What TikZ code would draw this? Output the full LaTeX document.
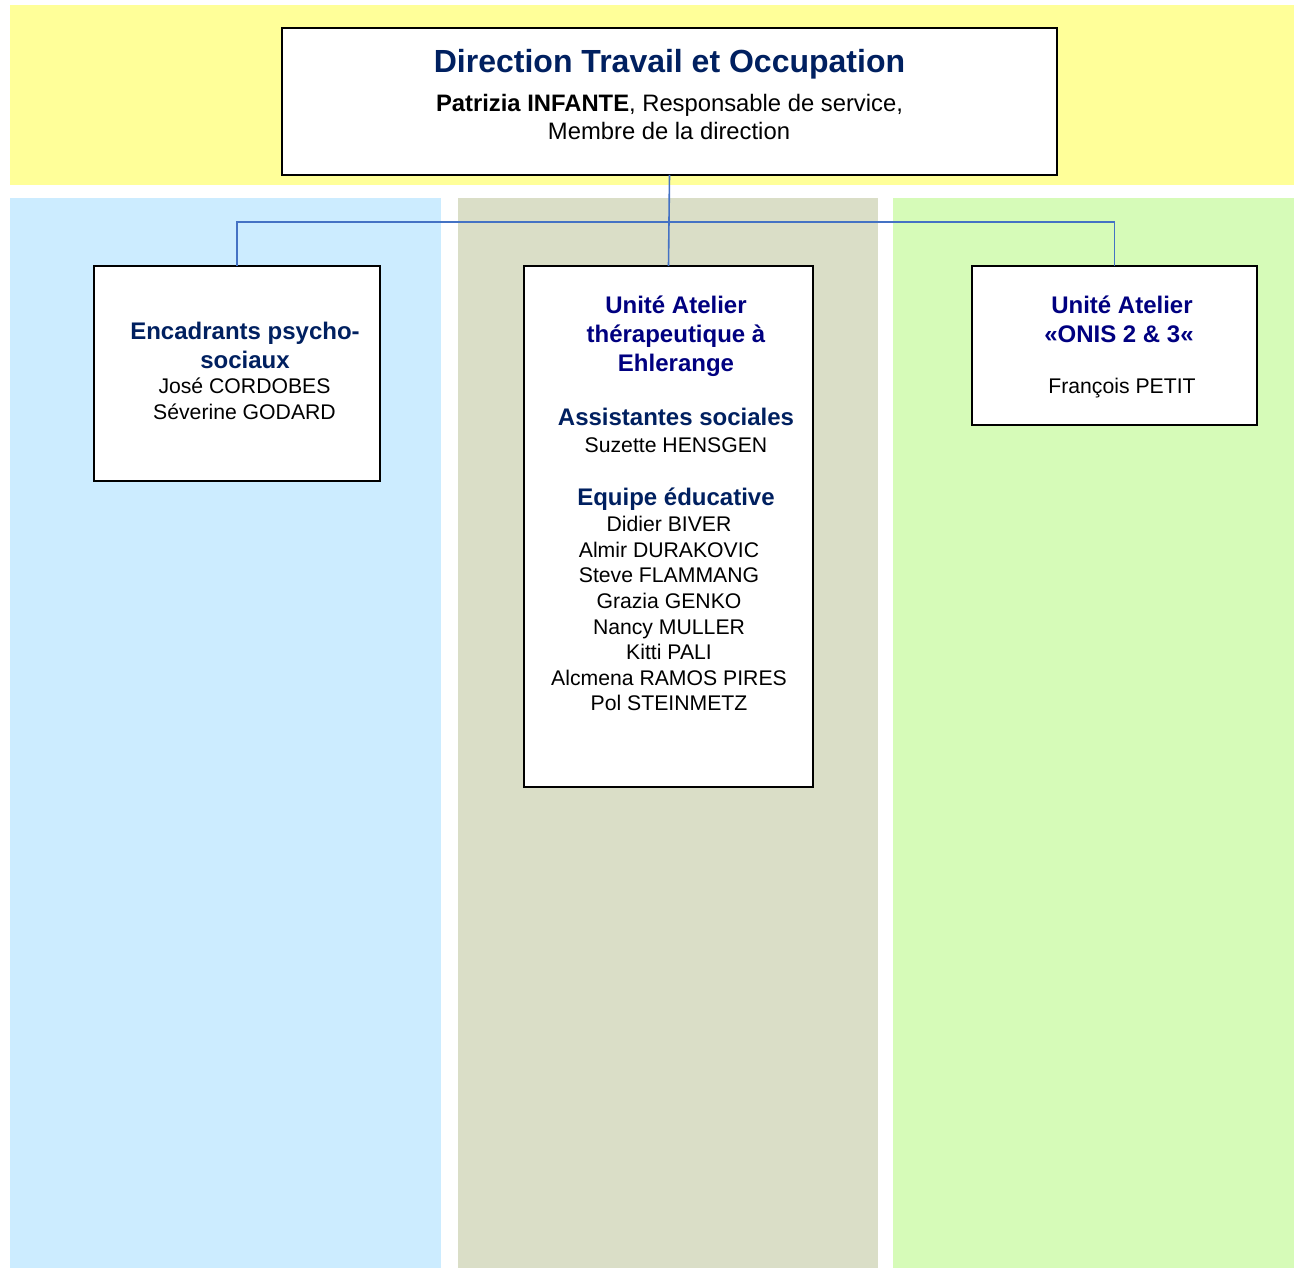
\documentclass[tikz,border=0pt]{standalone}
\usepackage{fontspec}
\setmainfont{Liberation Sans}
\definecolor{bgyellow}{HTML}{FFFF99}
\definecolor{bgblue}{HTML}{CCECFF}
\definecolor{bgolive}{HTML}{DADEC7}
\definecolor{bggreen}{HTML}{D6FBB8}
\definecolor{titleblue}{HTML}{002060}
\definecolor{unitnavy}{HTML}{000080}
\definecolor{linkblue}{HTML}{4472C4}
\tikzset{
  orgbox/.style={draw=black, line width=1.5pt, fill=white, inner sep=0pt, outer sep=0pt},
  txt/.style={inner sep=0pt, anchor=base, text=black},
  titletxt/.style={txt, text=titleblue, font=\fontsize{32}{36}\selectfont\bfseries},
  subtxt/.style={txt, font=\fontsize{23.8}{27}\selectfont},
  headtxt/.style={txt, text=titleblue, font=\fontsize{24}{28}\selectfont\bfseries},
  unittxt/.style={txt, text=unitnavy, font=\fontsize{24}{28}\selectfont\bfseries},
  nametxt/.style={txt, font=\fontsize{21.2}{25}\selectfont},
  link/.style={draw=linkblue, line width=1.6pt}
}
\begin{document}
\begin{tikzpicture}[x=1pt,y=-1pt]
\useasboundingbox (0,0) rectangle (1294,1268);
% background bands
\fill[bgyellow] (10,5) rectangle (1294,185);
\fill[bgblue] (10,198) rectangle (441,1268);
\fill[bgolive] (458,198) rectangle (878,1268);
\fill[bggreen] (893,198) rectangle (1294,1268);
% boxes
\node[orgbox, minimum width=775pt, minimum height=147pt] (top) at (669.5,101.5) {};
\node[orgbox, minimum width=286pt, minimum height=215pt] (b1) at (237,373.5) {};
\node[orgbox, minimum width=289pt, minimum height=521pt] (b2) at (668.5,526.5) {};
\node[orgbox, minimum width=285pt, minimum height=159pt] (b3) at (1114.5,345.5) {};
% connectors
\coordinate (bus) at (0,222);
\draw[link] (top.south) -- (b2.north);
\draw[link] (b1.north) -- (b1.north |- bus) -- (b3.north |- bus) -- (b3.north);
% top box text
\node[titletxt] (t1) at (669.5,73) {Direction Travail et Occupation};
\node[subtxt] (t2) at (669.5,112) {\textbf{Patrizia INFANTE}, Responsable de service,};
\node[subtxt] (t3) at (669,140) {Membre de la direction};
% box 1 text
\node[headtxt] (a1) at (245,339) {Encadrants psycho-};
\node[headtxt] (a2) at (245,368) {sociaux};
\node[nametxt] (a3) at (244.5,393.5) {José CORDOBES};
\node[nametxt] (a4) at (244.5,419.5) {Séverine GODARD};
% box 2 text
\node[unittxt] (c1) at (676,313) {Unité Atelier};
\node[unittxt] (c2) at (676,342) {thérapeutique à};
\node[unittxt] (c3) at (676,371) {Ehlerange};
\node[headtxt] (c4) at (676,425) {Assistantes sociales};
\node[nametxt] (c5) at (676,452.5) {Suzette HENSGEN};
\node[headtxt] (c6) at (676,505) {Equipe éducative};
\node[nametxt] (n1) at (669,531.5) {Didier BIVER};
\node[nametxt] (n2) at (669,557) {Almir DURAKOVIC};
\node[nametxt] (n3) at (669,582.5) {Steve FLAMMANG};
\node[nametxt] (n4) at (669,608.5) {Grazia GENKO};
\node[nametxt] (n5) at (669,634) {Nancy MULLER};
\node[nametxt] (n6) at (669,659.5) {Kitti PALI};
\node[nametxt] (n7) at (669,685) {Alcmena RAMOS PIRES};
\node[nametxt] (n8) at (669,710.5) {Pol STEINMETZ};
% box 3 text
\node[unittxt] (d1) at (1122,313) {Unité Atelier};
\node[unittxt] (d2) at (1119,342) {«ONIS 2 \& 3«};
\node[nametxt] (d3) at (1122,393.5) {François PETIT};
\end{tikzpicture}
\end{document}
